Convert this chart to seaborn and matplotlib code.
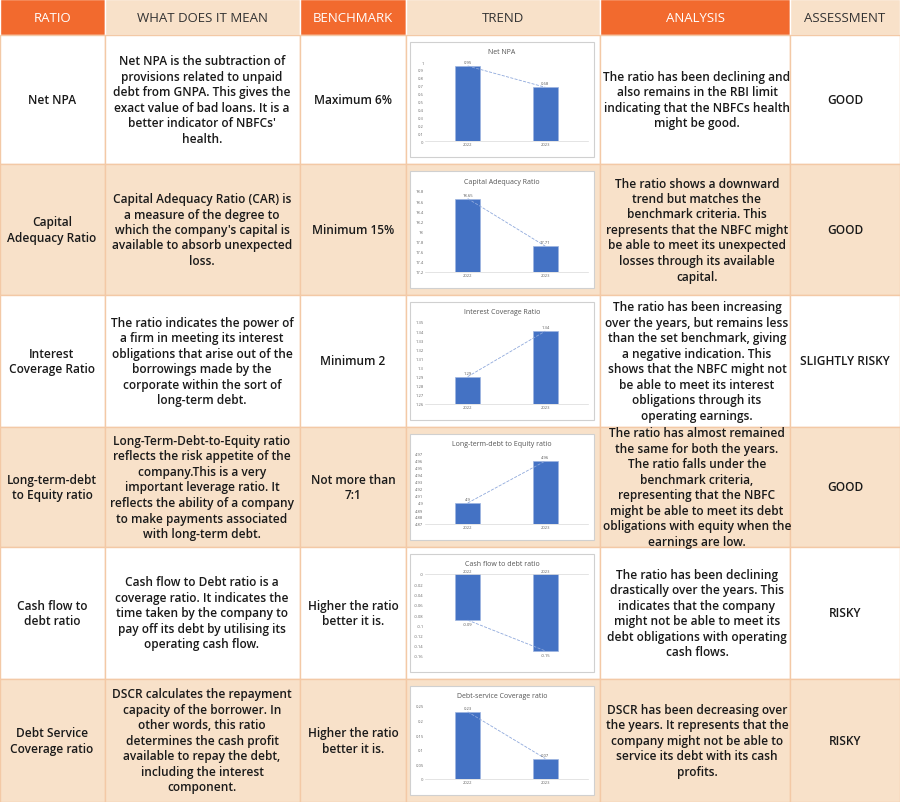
import matplotlib
matplotlib.use("Agg")
import matplotlib.pyplot as plt
import seaborn as sns
import pandas as pd
from matplotlib.patches import Rectangle

sns.set_style("white")
plt.rcParams['font.family'] = ['Open Sans', 'DejaVu Sans']

headers = ["RATIO", "WHAT DOES IT MEAN", "BENCHMARK", "TREND", "ANALYSIS", "ASSESSMENT"]
ratios = ["Net NPA", "Capital\nAdequacy Ratio", "Interest\nCoverage Ratio", "Long-term-debt\nto Equity ratio",
          "Cash flow to\ndebt ratio", "Debt Service\nCoverage ratio"]
meanings = [
    "Net NPA is the subtraction of\nprovisions related to unpaid\ndebt from GNPA. This gives the\nexact value of bad loans. It is a\nbetter indicator of NBFCs'\nhealth.",
    "Capital Adequacy Ratio (CAR) is\na measure of the degree to\nwhich the company's capital is\navailable to absorb unexpected\nloss.",
    "The ratio indicates the power of\na firm in meeting its interest\nobligations that arise out of the\nborrowings made by the\ncorporate within the sort of\nlong-term debt.",
    "Long-Term-Debt-to-Equity ratio\nreflects the risk appetite of the\ncompany.This is a very\nimportant leverage ratio. It\nreflects the ability of a company\nto make payments associated\nwith long-term debt.",
    "Cash flow to Debt ratio is a\ncoverage ratio. It indicates the\ntime taken by the company to\npay off its debt by utilising its\noperating cash flow.",
    "DSCR calculates the repayment\ncapacity of the borrower. In\nother words, this ratio\ndetermines the cash profit\navailable to repay the debt,\nincluding the interest\ncomponent.",
]
benchmarks = ["Maximum 6%", "Minimum 15%", "Minimum 2", "Not more than\n7:1", "Higher the ratio\nbetter it is.", "Higher the ratio\nbetter it is."]
analyses = [
    "The ratio has been declining and\nalso remains in the RBI limit\nindicating that the NBFCs health\nmight be good.",
    "The ratio shows a downward\ntrend but matches the\nbenchmark criteria. This\nrepresents that the NBFC might\nbe able to meet its unexpected\nlosses through its available\ncapital.",
    "The ratio has been increasing\nover the years, but remains less\nthan the set benchmark, giving\na negative indication. This\nshows that the NBFC might not\nbe able to meet its interest\nobligations through its\noperating earnings.",
    "The ratio has almost remained\nthe same for both the years.\nThe ratio falls under the\nbenchmark criteria,\nrepresenting that the NBFC\nmight be able to meet its debt\nobligations with equity when the\nearnings are low.",
    "The ratio has been declining\ndrastically over the years. This\nindicates that the company\nmight not be able to meet its\ndebt obligations with operating\ncash flows.",
    "DSCR has been decreasing over\nthe years. It represents that the\ncompany might not be able to\nservice its debt with its cash\nprofits.",
]
assessments = ["GOOD", "GOOD", "SLIGHTLY RISKY", "GOOD", "RISKY", "RISKY"]

chart_titles = ["Net NPA", "Capital Adequacy Ratio", "Interest Coverage Ratio",
                "Long-term-debt to Equity ratio", "Cash flow to debt ratio", "Debt-service Coverage ratio"]
years = [["2022", "2023"]] * 6
values = [[0.95, 0.68], [18.65, 17.71], [1.29, 1.34], [4.90, 4.96], [-0.09, -0.15], [0.23, 0.07]]
value_labels = [["0.95", "0.68"], ["18.65", "17.71"], ["1.29", "1.34"], ["4.9", "4.96"], ["-0.09", "-0.15"], ["0.23", "0.07"]]
ylims = [(0, 1), (17.2, 18.8), (1.26, 1.35), (4.87, 4.97), (-0.16, 0), (0, 0.25)]
ysteps = [0.1, 0.2, 0.01, 0.01, 0.02, 0.05]

W, H = 900, 803
fig = plt.figure(figsize=(9, 8.03), dpi=100)
bg = fig.add_axes([0, 0, 1, 1])
bg.set_xlim(0, W); bg.set_ylim(H, 0); bg.axis("off")

cols = [0, 105, 300, 406, 600, 790, 900]
rows = [0, 36, 165, 296, 428, 548, 680, 803]
ORANGE = "#F26A2E"; PEACH = "#F8E1C9"; TXT = "#1a1a1a"

for i, h in enumerate(headers):
    c = ORANGE if i % 2 == 0 else PEACH
    bg.add_patch(Rectangle((cols[i], 0), cols[i+1]-cols[i], 36, fc=c, ec="white", lw=1))
    bg.text((cols[i]+cols[i+1])/2, 18, h, ha="center", va="center", fontsize=9.5,
            color="white" if i % 2 == 0 else "#333333")

for r in range(6):
    y0, y1 = rows[r+1], rows[r+2]
    c = "white" if r % 2 == 0 else PEACH
    for i in range(6):
        bg.add_patch(Rectangle((cols[i], y0), cols[i+1]-cols[i], y1-y0, fc=c, ec="#F3C9A6", lw=1))
    ym = (y0 + y1) / 2
    kw = dict(ha="center", va="center", fontsize=8.6, color=TXT, fontweight="semibold", linespacing=1.25)
    bg.text(52, ym, ratios[r], **kw)
    bg.text(202, ym, meanings[r], **kw)
    bg.text(353, ym, benchmarks[r], **kw)
    bg.text(697, ym, analyses[r], **kw)
    bg.text(845, ym, assessments[r], **kw)
    # chart box
    bx0, bx1, by0, by1 = 410, 594, y0 + 7, y1 - 7
    bg.add_patch(Rectangle((bx0, by0), bx1-bx0, by1-by0, fc="white", ec="#d0d0d0", lw=0.8))
    bg.text((bx0+bx1)/2, by0 + 10, chart_titles[r], ha="center", va="center", fontsize=5, color="#555555")
    ax_l, ax_r = 425, 588
    ax_t, ax_b = by0 + 20, by1 - 16
    ax = fig.add_axes([ax_l/W, 1-ax_b/H, (ax_r-ax_l)/W, (ax_b-ax_t)/H])
    df = pd.DataFrame({"year": years[r], "value": values[r]})
    lo, hi = ylims[r]
    base = 0 if lo < 0 else lo
    df["h"] = df["value"] - base
    sns.barplot(data=df, x="year", y="h", bottom=base, color="#4472C4", width=0.32, ax=ax,
                edgecolor="#8fa9dc", linewidth=0.6) if False else None
    ax.bar([0, 1], df["h"], bottom=base, width=0.32, color="#4472C4", edgecolor="#9db4e0", linewidth=0.5)
    sns.lineplot(x=[0, 1], y=df["value"], ax=ax, color="#8fa9dc", lw=0.6, linestyle="--")
    ax.set_xlim(-0.55, 1.55); ax.set_ylim(lo, hi)
    import numpy as np
    ticks = np.round(np.arange(lo, hi + ysteps[r]/2, ysteps[r]), 3)
    ax.set_yticks(ticks)
    ax.set_yticklabels([("%g" % t) for t in ticks], fontsize=3, color="#666666")
    ax.set_xticks([0, 1])
    ax.set_xticklabels(years[r], fontsize=3, color="#666666")
    if lo < 0:
        ax.xaxis.tick_top()
        ax.tick_params(axis="x", pad=-8)
    for s in ["top", "right", "left"]:
        ax.spines[s].set_visible(False)
    ax.spines["bottom"].set_color("#d9d9d9"); ax.spines["bottom"].set_linewidth(0.5)
    if lo < 0:
        ax.spines["bottom"].set_visible(False); ax.spines["top"].set_visible(True)
        ax.spines["top"].set_color("#d9d9d9"); ax.spines["top"].set_linewidth(0.5)
    ax.tick_params(length=0, pad=1)
    ax.set_xlabel(""); ax.set_ylabel("")
    ax.patch.set_alpha(0)
    off = (hi - lo) * 0.05
    for k, v in enumerate(values[r]):
        yy = v + off if v >= 0 else v - off
        ax.text(k, yy, value_labels[r][k], ha="center", va="center", fontsize=3, color="#555555")

fig.savefig("out.png", dpi=100)
